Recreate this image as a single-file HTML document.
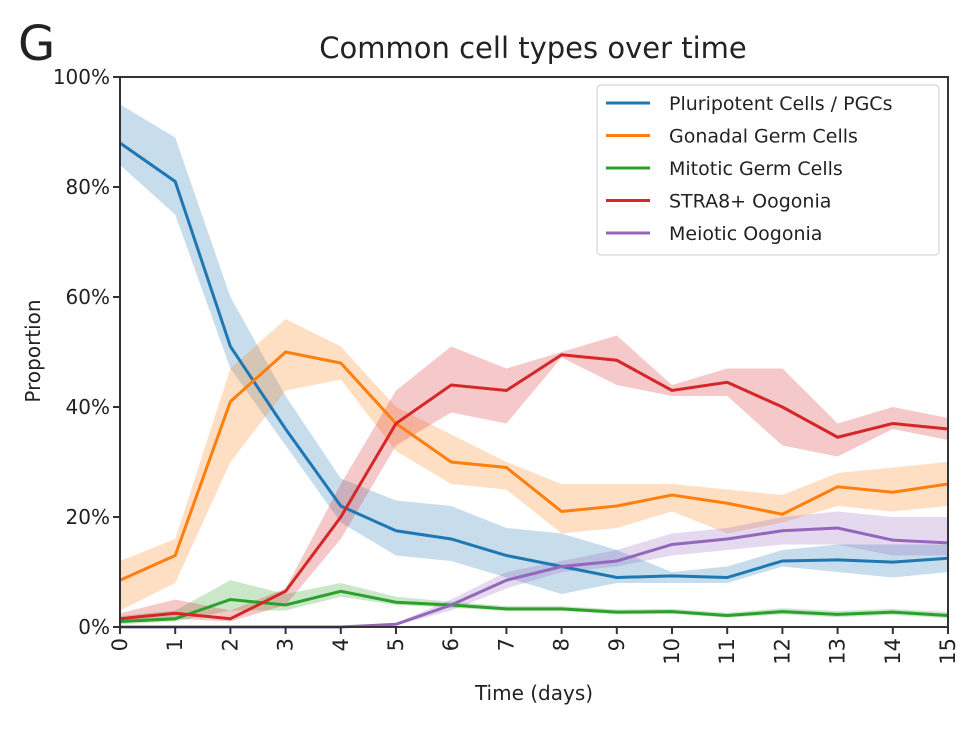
<!DOCTYPE html>
<html><head><meta charset="utf-8"><style>
body{margin:0;background:#fff;}
svg text{font-family:"DejaVu Sans","Liberation Sans",sans-serif;fill:#222;}
</style></head><body>
<svg id="chart" width="961" height="729" viewBox="0 0 961 729">
<text x="18" y="60" font-size="48">G</text>
<text x="533" y="58" font-size="29" text-anchor="middle">Common cell types over time</text>
<g id="bands"></g><g id="lines"></g><g id="axes"></g>
<text transform="translate(40,351) rotate(-90)" font-size="20" text-anchor="middle">Proportion</text>
<text x="534" y="700" font-size="20" text-anchor="middle">Time (days)</text>
<g id="legend"></g>
</svg>
<script>
const days=[0,1,2,3,4,5,6,7,8,9,10,11,12,13,14,15];
const yTicks=[0,20,40,60,80,100];
const seriesNames=["Pluripotent Cells / PGCs","Gonadal Germ Cells","Mitotic Germ Cells","STRA8+ Oogonia","Meiotic Oogonia"];
const colors=["#1f77b4","#ff7f0e","#2ca02c","#d62728","#9467bd"];
const pluriMean=[88,81,51,36,22,17.5,16,13,11,9,9.3,9,12,12.2,11.8,12.5];
const pluriLo=[84,75,47,33,19,13,12,9,6,8,8,8,11,10,9,10];
const pluriHi=[95,89,60,42,27,23,22,18,17,14,10,11,14,15,15,15];
const gonadMean=[8.5,13,41,50,48,37,30,29,21,22,24,22.5,20.5,25.5,24.5,26];
const gonadLo=[3,8,30,43,45,32,26,25,17,18,21,17,19,22,21,22];
const gonadHi=[12,16,47,56,51,40,35,30,26,26,26,25,24,28,29,30];
const mitoMean=[1,1.5,5,4,6.5,4.5,4,3.3,3.3,2.7,2.8,2.1,2.8,2.3,2.7,2.1];
const mitoLo=[0.5,1,3,3,5.5,4,3.5,2.9,2.9,2.3,2.4,1.7,2.3,1.8,2.2,1.6];
const mitoHi=[2,3,8.5,6,8,5.5,4.6,3.8,3.8,3.2,3.3,2.6,3.4,2.9,3.3,2.7];
const straMean=[1.5,2.5,1.5,6.5,20,37,44,43,49.5,48.5,43,44.5,40,34.5,37,36];
const straLo=[1,1.5,1,4,16,33,39,37,49,44,42,42,33,31,36,34];
const straHi=[2.5,5,3,7,26,43,51,47,50,53,44,47,47,37,40,38];
const meioMean=[0,0,0,0,0,0.5,4,8.5,11,12,15,16,17.5,18,15.8,15.3];
const meioLo=[0,0,0,0,0,0.3,3,7,10,11,13,14,15,15,13,13];
const meioHi=[0,0,0,0,0,0.7,5,10,12,14,17,18,20,21,20,20];
const means=[pluriMean,gonadMean,mitoMean,straMean,meioMean];
const los=[pluriLo,gonadLo,mitoLo,straLo,meioLo];
const his=[pluriHi,gonadHi,mitoHi,straHi,meioHi];
const X0=120,X1=948,Y0=627,Y1=77;
const xs=d=>X0+(d-0)/15*(X1-X0);
const ys=v=>Y0-(v/100)*(Y0-Y1);
const NS="http://www.w3.org/2000/svg";
function mk(t,a,p){const e=document.createElementNS(NS,t);for(const k in a)e.setAttribute(k,a[k]);p.appendChild(e);return e;}
const bands=document.getElementById('bands'),lines=document.getElementById('lines'),axes=document.getElementById('axes'),legend=document.getElementById('legend');
means.forEach((m,i)=>{
  const up=days.map((d,j)=>xs(d)+','+ys(his[i][j]));
  const dn=days.map((d,j)=>xs(d)+','+ys(los[i][j])).reverse();
  const b=mk('polygon',{points:up.concat(dn).join(' '),fill:colors[i],'fill-opacity':0.25},bands);
  
  
  const l=mk('polyline',{points:days.map((d,j)=>xs(d)+','+ys(m[j])).join(' '),fill:'none',stroke:colors[i],'stroke-width':3},lines);
  
  
});
const fr=mk('rect',{x:X0,y:Y1,width:X1-X0,height:Y0-Y1,fill:'none',stroke:'#333','stroke-width':2},axes);


yTicks.forEach(v=>{
  mk('line',{x1:X0-7,x2:X0,y1:ys(v),y2:ys(v),stroke:'#333','stroke-width':2},axes);
  const t=mk('text',{x:X0-10,y:ys(v)+7,'font-size':20,'text-anchor':'end'},axes);
  t.textContent=v+'%';
  
  
});
days.forEach(d=>{
  mk('line',{x1:xs(d),x2:xs(d),y1:Y0,y2:Y0+7,stroke:'#333','stroke-width':2},axes);
  const t=mk('text',{transform:`translate(${xs(d)+7},${Y0+11}) rotate(-90)`,'font-size':21,'text-anchor':'end'},axes);
  t.textContent=d;
  
  
});
const lb=mk('rect',{x:597,y:85,width:342,height:170,rx:4,fill:'#fff','fill-opacity':0.85,stroke:'#ccc'},legend);


seriesNames.forEach((n,i)=>{
  const y=103+i*32.5;
  const g=mk('g',{},legend);
  
  
  mk('line',{x1:606,x2:650,y1:y,y2:y,stroke:colors[i],'stroke-width':3},g);
  const t=mk('text',{x:669,y:y+7,'font-size':19},g);
  t.textContent=n;
});
</script>
</body></html>
